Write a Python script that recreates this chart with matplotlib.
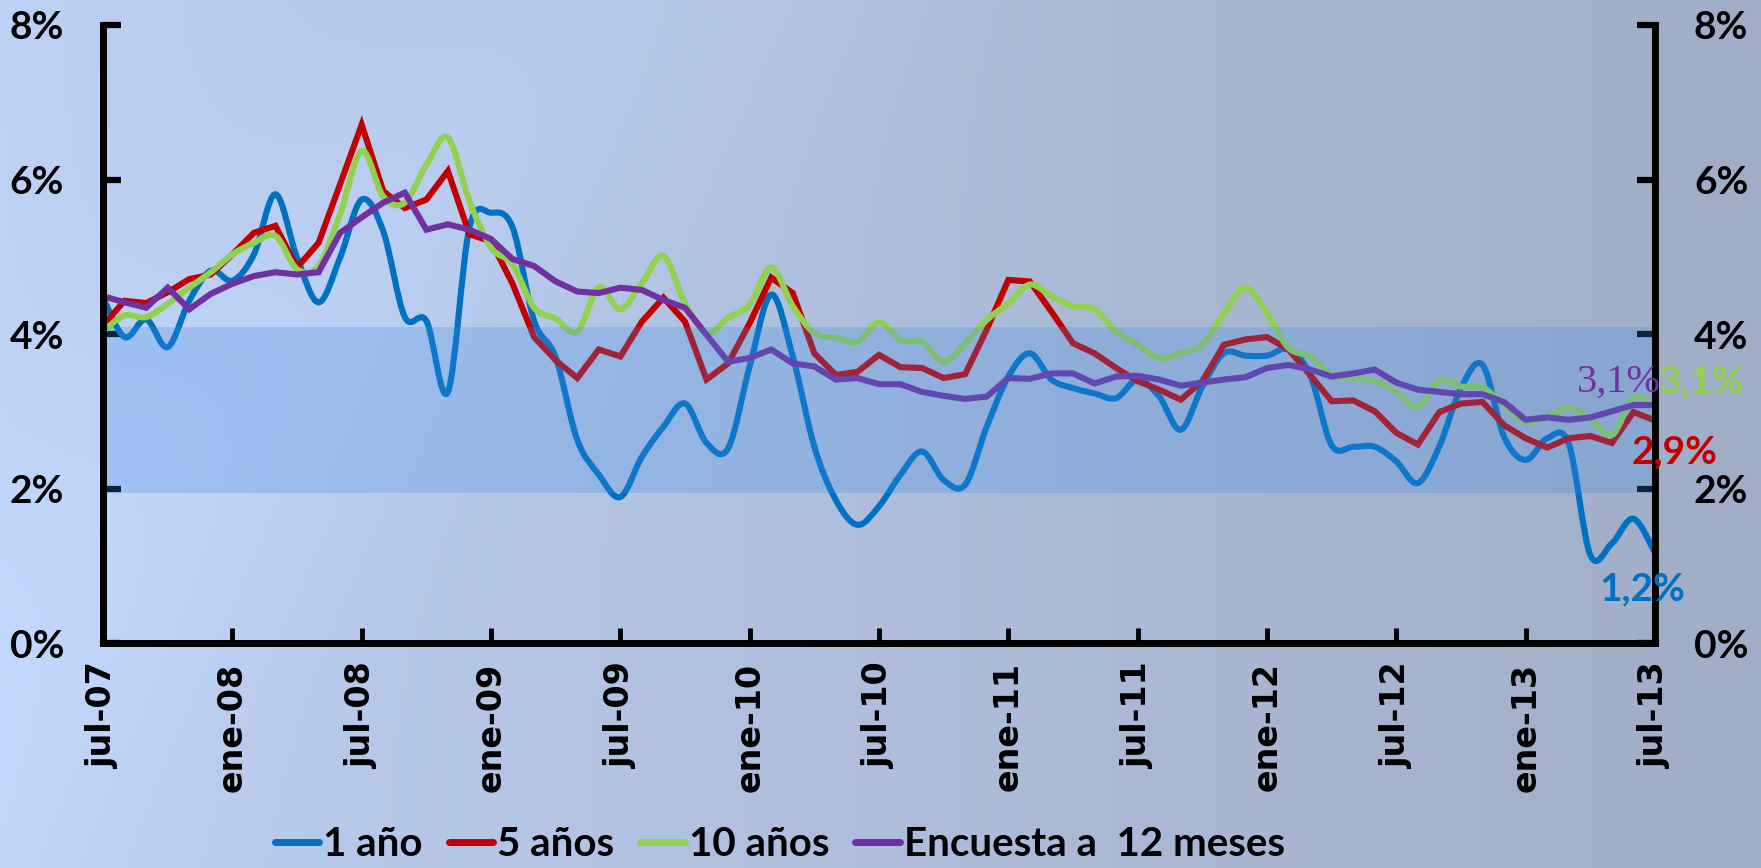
import numpy as np
import matplotlib
matplotlib.use("Agg")
import matplotlib.pyplot as plt
from matplotlib.path import Path
from matplotlib.patches import PathPatch
from matplotlib.lines import Line2D

# ---------------- data ----------------
tick_labels = ["jul-07", "ene-08", "jul-08", "ene-09", "jul-09", "ene-10", "jul-10",
               "ene-11", "jul-11", "ene-12", "jul-12", "ene-13", "jul-13"]

uno_anio = [4.47, 3.96, 4.19, 3.83, 4.43, 4.82, 4.69, 5.03, 5.81, 4.99, 4.41, 4.99, 5.74,
            5.33, 4.22, 4.17, 3.25, 5.38, 5.57, 5.38, 4.17, 3.70, 2.63, 2.18, 1.89, 2.41,
            2.80, 3.10, 2.59, 2.52, 3.58, 4.51, 3.71, 2.54, 1.85, 1.53, 1.77, 2.18, 2.48,
            2.11, 2.05, 2.80, 3.45, 3.75, 3.41, 3.30, 3.23, 3.17, 3.41, 3.19, 2.76, 3.32,
            3.75, 3.72, 3.72, 3.80, 3.47, 2.56, 2.54, 2.54, 2.35, 2.07, 2.55, 3.30, 3.60,
            2.67, 2.37, 2.65, 2.58, 1.14, 1.29, 1.61, 1.17]

cinco_anios = [4.11, 4.43, 4.40, 4.54, 4.71, 4.77, 5.03, 5.31, 5.40, 4.86, 5.18, 5.94, 6.71,
               5.85, 5.63, 5.74, 6.11, 5.29, 5.20, 4.65, 3.96, 3.66, 3.43, 3.80, 3.71, 4.16,
               4.47, 4.16, 3.41, 3.62, 4.14, 4.73, 4.53, 3.75, 3.47, 3.51, 3.73, 3.57, 3.56,
               3.43, 3.48, 4.06, 4.70, 4.68, 4.29, 3.88, 3.75, 3.56, 3.39, 3.28, 3.15, 3.39,
               3.86, 3.93, 3.96, 3.80, 3.47, 3.13, 3.14, 3.00, 2.72, 2.57, 2.99, 3.10, 3.12,
               2.82, 2.65, 2.53, 2.65, 2.68, 2.59, 2.99, 2.88]

diez_anios = [4.04, 4.24, 4.22, 4.39, 4.60, 4.80, 5.03, 5.18, 5.27, 4.84, 4.88, 5.55, 6.37,
              5.78, 5.70, 6.19, 6.54, 5.72, 5.12, 4.90, 4.34, 4.20, 4.03, 4.60, 4.32, 4.66,
              5.01, 4.40, 4.01, 4.21, 4.38, 4.86, 4.36, 4.01, 3.95, 3.90, 4.15, 3.92, 3.90,
              3.64, 3.88, 4.18, 4.40, 4.64, 4.49, 4.36, 4.32, 4.03, 3.86, 3.69, 3.75, 3.86,
              4.27, 4.60, 4.27, 3.82, 3.71, 3.47, 3.43, 3.39, 3.25, 3.06, 3.40, 3.32, 3.31,
              3.08, 2.85, 2.93, 3.04, 2.91, 2.69, 3.17, 3.08]

encuesta = [4.49, 4.41, 4.34, 4.60, 4.32, 4.52, 4.65, 4.75, 4.80, 4.77, 4.80, 5.31, 5.51,
            5.70, 5.83, 5.35, 5.42, 5.35, 5.23, 4.97, 4.88, 4.68, 4.55, 4.53, 4.60, 4.57,
            4.44, 4.34, 3.99, 3.64, 3.69, 3.80, 3.62, 3.58, 3.41, 3.43, 3.35, 3.35, 3.25,
            3.20, 3.16, 3.19, 3.43, 3.42, 3.49, 3.49, 3.36, 3.45, 3.46, 3.41, 3.33, 3.37,
            3.41, 3.44, 3.56, 3.60, 3.54, 3.45, 3.49, 3.54, 3.37, 3.28, 3.25, 3.22, 3.22,
            3.12, 2.89, 2.92, 2.89, 2.92, 3.00, 3.08, 3.08]

banda = [1.94, 4.09]  # target range shading
y_ticks = [0, 2, 4, 6, 8]
y_tick_labels = ["0%", "2%", "4%", "6%", "8%"]
end_labels = ["1,2%", "2,9%", "3,1%", "3,1%"]
series_names = ["1 año", "5 años", "10 años", "Encuesta a  12 meses"]

# ---------------- style ----------------
C_BLUE = "#0070C0"
C_RED = "#C00000"
C_GREEN = "#92D050"
C_PURPLE = "#7030A0"
LW = 4.4

fig = plt.figure(figsize=(17.61, 8.68), dpi=100)

# background gradient
bg = fig.add_axes([0, 0, 1, 1], zorder=-10)
H, W = 200, 400
u = np.linspace(0, 1, W)[None, :]
v = np.linspace(0, 1, H)[:, None]
left = np.array([190, 210, 246], float)
right = np.array([161, 173, 198], float)
t = np.clip(u ** 0.85 + 0.0 * v, 0, 1)
img = left[None, None, :] * (1 - t[..., None]) + right[None, None, :] * t[..., None]
hl = np.exp(-(((u + 0.45 * v - 0.36) / 0.14) ** 2)) * 8
img = img + hl[..., None] * np.array([0.6, 0.8, 1.0])
img = np.clip(img, 0, 255) / 255.0
bg.imshow(img, aspect="auto", extent=[0, 1, 0, 1], interpolation="bicubic")
bg.set_axis_off()

ax = fig.add_axes([0.0585, 0.2592, 0.8813, 0.7120])
ax.patch.set_alpha(0)

x = np.arange(len(uno_anio))


def smooth_path(xs, ys):
    pts = np.column_stack([xs, ys]).astype(float)
    n = len(pts)
    verts = [pts[0]]
    codes = [Path.MOVETO]
    for i in range(n - 1):
        p0 = pts[max(i - 1, 0)]
        p1 = pts[i]
        p2 = pts[i + 1]
        p3 = pts[min(i + 2, n - 1)]
        c1 = p1 + (p2 - p0) / 6.0
        c2 = p2 - (p3 - p1) / 6.0
        verts += [c1, c2, p2]
        codes += [Path.CURVE4] * 3
    return Path(verts, codes)


ax.add_patch(PathPatch(smooth_path(x, uno_anio), fill=False, edgecolor=C_BLUE,
                       lw=LW, capstyle="round", joinstyle="round", zorder=3))
ax.plot(x, cinco_anios, color=C_RED, lw=LW, solid_joinstyle="miter", zorder=4)
ax.add_patch(PathPatch(smooth_path(x, diez_anios), fill=False, edgecolor=C_GREEN,
                       lw=LW, capstyle="round", joinstyle="round", zorder=5))
ax.plot(x, encuesta, color=C_PURPLE, lw=LW, solid_joinstyle="miter", zorder=6)

# target band drawn over lines
ax.axhspan(banda[0], banda[1], color=(0.24, 0.55, 0.90), alpha=0.25, lw=0, zorder=7)

ax.set_xlim(0, 72)
ax.set_ylim(0, 8)

ax.set_xticks(np.arange(0, 73, 6))
ax.set_xticklabels(tick_labels, rotation=90, fontfamily="DejaVu Sans",
                   fontweight="bold", fontsize=24)
ax.set_yticks(y_ticks)
ax.set_yticklabels(y_tick_labels)

ax.tick_params(axis="y", which="both", left=True, right=True, labelleft=True,
               labelright=True, direction="in", length=13, width=4.5, pad=28)
ax.tick_params(axis="x", direction="in", length=11, width=3.5, pad=14)
for lab in ax.get_yticklabels(which="both"):
    lab.set_fontfamily("Lato")
    lab.set_fontweight("bold")
    lab.set_fontsize(28)

for s in ["left", "right", "bottom"]:
    ax.spines[s].set_linewidth(5)
    ax.spines[s].set_color("black")
    ax.spines[s].set_zorder(10)
ax.spines["top"].set_visible(False)

# end labels
ax.text(73.4, 0.70, end_labels[0], color=C_BLUE, fontfamily="Lato", fontweight="bold",
        fontsize=28, ha="right", va="center", clip_on=False, zorder=12)
ax.text(70.9, 2.47, end_labels[1], color=C_RED, fontfamily="Lato", fontweight="bold",
        fontsize=28, ha="left", va="center", clip_on=False, zorder=12)
ax.text(72.15, 3.38, end_labels[2], color=C_GREEN, fontfamily="Lato", fontweight="bold",
        fontsize=28, ha="left", va="center", clip_on=False, zorder=12)
ax.text(72.25, 3.38, end_labels[3], color=C_PURPLE, fontfamily="Liberation Serif",
        fontsize=29, ha="right", va="center", clip_on=False, zorder=12)

# legend
handles = [Line2D([0], [0], color=c, lw=5, solid_capstyle="round")
           for c in [C_BLUE, C_RED, C_GREEN, C_PURPLE]]
leg = fig.legend(handles, series_names, loc="center left", bbox_to_anchor=(0.156, 0.027),
                 ncol=4, frameon=False, handlelength=1.1, handletextpad=0.1,
                 columnspacing=0.65, borderpad=0, borderaxespad=0,
                 prop={"family": "Lato", "weight": "bold", "size": 29})

fig.savefig("out.png", dpi=100)
